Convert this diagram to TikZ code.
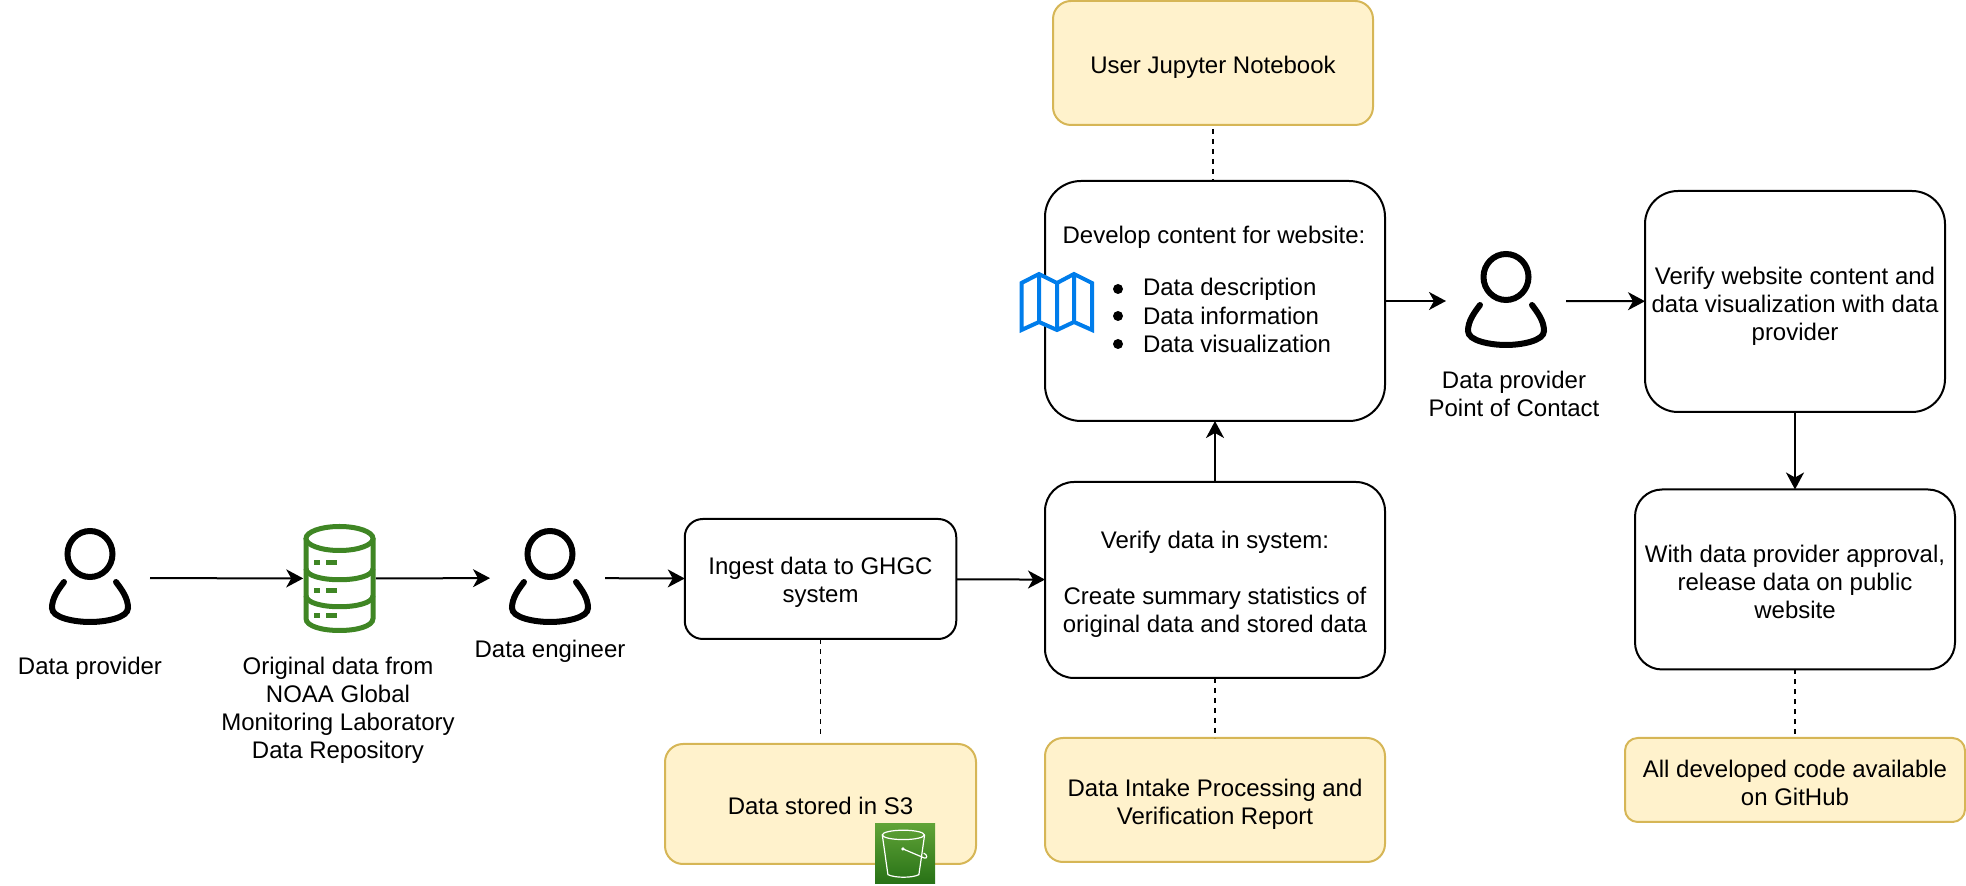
\documentclass[tikz,border=0pt]{standalone}
\usepackage{fontspec}
\setmainfont{Liberation Sans}
\definecolor{yellowc}{HTML}{FFF2CC}
\definecolor{yellowd}{HTML}{D6B656}
\definecolor{dbc}{HTML}{3F8624}
\definecolor{mapc}{HTML}{007DEB}
\definecolor{bucktop}{HTML}{60A337}
\definecolor{buckbot}{HTML}{277116}
\usetikzlibrary{arrows.meta,positioning,calc}
\newcommand{\drop}[1]{\rule{0pt}{#1pt}}
\tikzset{
  >={Stealth[length=8.5pt,width=9pt,inset=2.5pt]},
  lbl/.style={font=\fontsize{12}{14}\selectfont,align=center,inner sep=0pt,outer sep=0pt},
  box/.style={lbl,draw=black,line width=1pt,fill=white,rounded corners=#1},
  box/.default=9pt,
  ybox/.style={box=#1,draw=yellowd,fill=yellowc},
  ybox/.default=9pt,
  ghost/.style={inner sep=0pt,outer sep=0pt,minimum width=#1,minimum height=40pt},
  ghost/.default=60pt,
  flow/.style={->,line width=1pt,draw=black},
  link/.style={line width=0.9pt,draw=black,dash pattern=on 2.5pt off 2.5pt},
  person/.pic={
    \draw[line width=3pt] (0,-24) ellipse [x radius=22.5,y radius=23];
    \draw[line width=3pt,line cap=round] (-26,4) .. controls (-32,12) and (-38,20) .. (-38,30)
      .. controls (-38,40) and (-15,44) .. (0,44)
      .. controls (15,44) and (38,40) .. (38,30)
      .. controls (38,20) and (32,12) .. (26,4);},
  dbicon/.pic={
    \draw[dbc,line width=2.5pt] (0,-40) ellipse [x radius=33.5,y radius=12];
    \draw[dbc,line width=2.5pt] (-33.5,-40) -- (-33.5,40) .. controls (-33.5,56) and (33.5,56) .. (33.5,40) -- (33.5,-40);
    \foreach \y in {-10,17} {
      \draw[dbc,line width=2.5pt] (-33.5,\y) .. controls (-33.5,{\y+15}) and (33.5,{\y+15}) .. (33.5,\y);}
    \foreach \y in {-15.5,12.5,37.5} {
      \fill[dbc] (-25.5,{\y-2.5}) rectangle (-19.5,{\y+2.5});
      \fill[dbc] (-13.5,{\y-2.5}) rectangle (-2.5,{\y+2.5});}},
}

\begin{document}
\begin{tikzpicture}[x=0.5pt,y=-0.5pt]
  \useasboundingbox (0,0) rectangle (1966,886);
  % people and data source
  \node[ghost] (provider) at (90,578) {};
  \pic at (provider) {person};
  \node[lbl] (providerlbl) at (90,668.5) {Data provider};
  \node[ghost=36.25pt] (source) at (339.5,578.5) {};
  \pic at (source) {dbicon};
  \node[lbl] (sourcelbl) at (338,710.5) {Original data from\\NOAA Global\\Monitoring Laboratory\\Data Repository};
  \node[ghost] (engineer) at (550,578) {};
  \pic at (engineer) {person};
  \node[lbl] (engineerlbl) at (550,651.5) {Data engineer};
  \node[ghost] (contact) at (1506,301) {};
  \pic at (contact) {person};
  \node[lbl] (contactlbl) at (1514,393.5) {Data provider\\Point of Contact};

  % process boxes
  \node[box,minimum width=135.75pt,minimum height=60pt] (ingest) at (820.5,579) {\drop{11.5}Ingest data to GHGC\\system};
  \node[box=14.5pt,minimum width=170pt,minimum height=98pt] (verdata) at (1215,580) {\drop{12.75}Verify data in system:\\[14pt]Create summary statistics of\\original data and stored data};
  \node[box=18pt,minimum width=170pt,minimum height=120pt] (develop) at (1215,301) {};
  \node[box=16.5pt,minimum width=150pt,minimum height=110.5pt] (verweb) at (1795,301.5) {\drop{13}Verify website content and\\data visualization with data\\provider};
  \node[box=13.5pt,minimum width=160pt,minimum height=90pt] (release) at (1795,579.5) {\drop{11.5}With data provider approval,\\release data on public\\website};

  % artefacts
  \node[ybox,minimum width=160pt,minimum height=62pt] (jupyter) at (1213,63) {\drop{12.5}User Jupyter Notebook};
  \node[ybox,minimum width=155.5pt,minimum height=60pt] (stored) at (820.5,804) {\drop{10.25}Data stored in S3};
  \node[ybox,minimum width=170pt,minimum height=62pt] (report) at (1215,800) {\drop{12.75}Data Intake Processing and\\Verification Report};
  \node[ybox=6.3pt,minimum width=170pt,minimum height=42pt] (github) at (1795,780) {\drop{11.5}All developed code available\\on GitHub};

  % develop box text
  \node[lbl] (devtitle) at (1214,237) {Develop content for website:};
  \foreach \i/\y/\t in {0/289/Data description,1/316/Data information,2/344/Data visualization} {
    \fill (1118,\y) circle (2.5pt);
    \node[lbl,anchor=west] (item\i) at (1143,\y) {\t};
  }

  % map icon
  \draw[mapc,line width=2pt,fill=white] (1021.5,283) -- (1039,274) -- (1057,283) -- (1074,274) -- (1092,283) -- (1092,330)
    -- (1074,322) -- (1057,330) -- (1039,322) -- (1021.5,330) -- cycle
    (1039,274) -- (1039,322) (1057,283) -- (1057,330) (1074,274) -- (1074,322);

  % bucket icon
  \node[rectangle,top color=bucktop,bottom color=buckbot,inner sep=0pt,minimum size=30pt] (bucket) at (905,854) {};
  \begin{scope}[shift={(bucket.north west)},draw=white,line width=0.6pt]
    \draw (28.7,11.3) ellipse [x radius=21,y radius=4.7];
    \draw (7.7,11.3) -- (13.3,51) .. controls (20,54.5) and (38,54.5) .. (44.3,51) -- (50,11.3);
    \fill[white] (28.3,25.3) circle (0.9pt);
    \draw (28.3,25.3) -- (50,34.5) .. controls (53,35) and (53,31) .. (49,29.5);
  \end{scope}

  % connectors
  \draw[flow] (provider) -- (source);
  \draw[flow] (source) -- (engineer);
  \draw[flow,shorten <=-2.5pt] (engineer) -- (ingest);
  \draw[flow] (ingest) -- (verdata);
  \draw[flow] (verdata) -- (develop);
  \draw[flow] (develop) -- (contact);
  \draw[flow] (contact) -- (verweb);
  \draw[flow] (verweb) -- (release);
  \draw[link,shorten <=2pt] (jupyter.south) -- (jupyter.south |- develop.north);
  \draw[link,shorten >=3pt] (ingest) -- (stored);
  \draw[link] (verdata) -- (report);
  \draw[link] (release) -- (github);
\end{tikzpicture}
\end{document}
